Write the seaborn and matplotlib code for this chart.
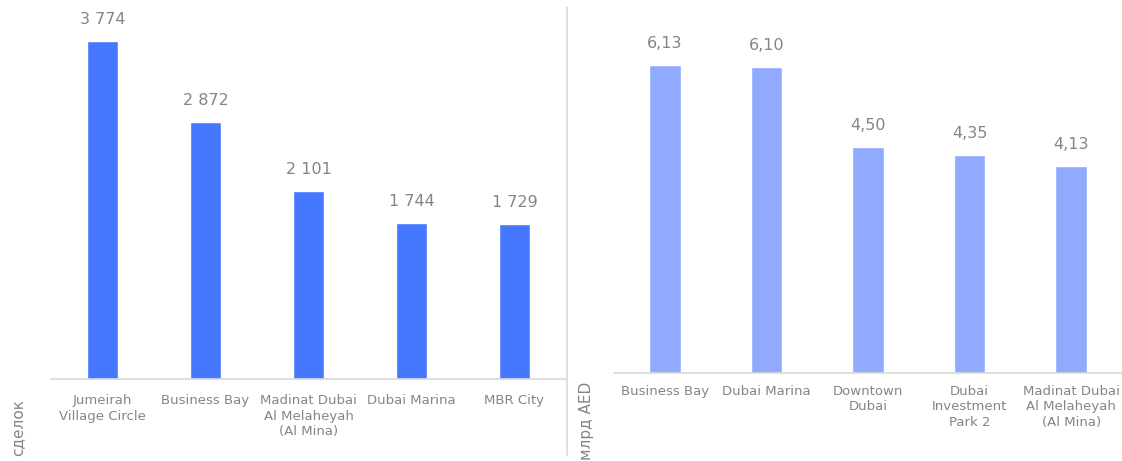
import matplotlib
matplotlib.use("Agg")
import matplotlib.pyplot as plt
import seaborn as sns
from matplotlib.lines import Line2D

sns.set_theme(style="white")
plt.rcParams['font.family'] = ['DejaVu Sans']

# Data
left_categories = ["Jumeirah\nVillage Circle", "Business Bay", "Madinat Dubai\nAl Melaheyah\n(Al Mina)",
                   "Dubai Marina", "MBR City"]
left_values = [3774, 2872, 2101, 1744, 1729]
left_ylabel = "сделок"

right_categories = ["Business Bay", "Dubai Marina", "Downtown\nDubai", "Dubai\nInvestment\nPark 2",
                    "Madinat Dubai\nAl Melaheyah\n(Al Mina)"]
right_values = [6.13, 6.10, 4.50, 4.35, 4.13]
right_ylabel = "млрд AED"

LEFT_COLOR = "#4677FF"
RIGHT_COLOR = "#8FAAFF"
TEXT_COLOR = "#858585"
LINE_COLOR = "#D9D9D9"

W, H = 1122, 461
fig = plt.figure(figsize=(W / 100, H / 100), dpi=100)

def px_axes(x0, x1, ytop, ybot):
    return fig.add_axes([x0 / W, 1 - ybot / H, (x1 - x0) / W, (ybot - ytop) / H])

ax1 = px_axes(51, 566, 0, 379)
ax2 = px_axes(614, 1122, 0, 373)

def draw(ax, cats, vals, color, ymax, fmt, pad):
    sns.barplot(x=cats, y=vals, color=color, saturation=1, width=0.31, ax=ax)
    ax.set_ylim(0, ymax)
    ax.set_xlim(-0.5, len(cats) - 0.5)
    for sp in ["top", "right", "left"]:
        ax.spines[sp].set_visible(False)
    ax.spines["bottom"].set_color(LINE_COLOR)
    ax.spines["bottom"].set_linewidth(1.2)
    ax.set_yticks([])
    ax.set_ylabel("")
    ax.tick_params(axis="x", length=0, pad=pad, labelsize=9.5, labelcolor=TEXT_COLOR)
    for lbl in ax.get_xticklabels():
        lbl.set_linespacing(1.25)
        lbl.set_verticalalignment("top")
    for i, v in enumerate(vals):
        ax.annotate(fmt(v), (i, v), xytext=(0, 10), textcoords="offset points",
                    ha="center", va="bottom", fontsize=11.5, color=TEXT_COLOR)
    ax.patch.set_alpha(0)

draw(ax1, left_categories, left_values, LEFT_COLOR, 379 / 0.0896,
     lambda v: f"{v:,}".replace(",", " "), 11)
draw(ax2, right_categories, right_values, RIGHT_COLOR, 373 / 50.2,
     lambda v: f"{v:.2f}".replace(".", ","), 8.5)

fig.text(18 / W, 1 - 456 / H, left_ylabel, rotation=90, ha="center", va="bottom",
         fontsize=11, color=TEXT_COLOR)
fig.text(586 / W, 1 - 460 / H, right_ylabel, rotation=90, ha="center", va="bottom",
         fontsize=11, color=TEXT_COLOR)

fig.add_artist(Line2D([567 / W, 567 / W], [1 - 7 / H, 1 - 455 / H], color=LINE_COLOR,
                      linewidth=1.2, transform=fig.transFigure))

fig.savefig("out.png", dpi=100)
